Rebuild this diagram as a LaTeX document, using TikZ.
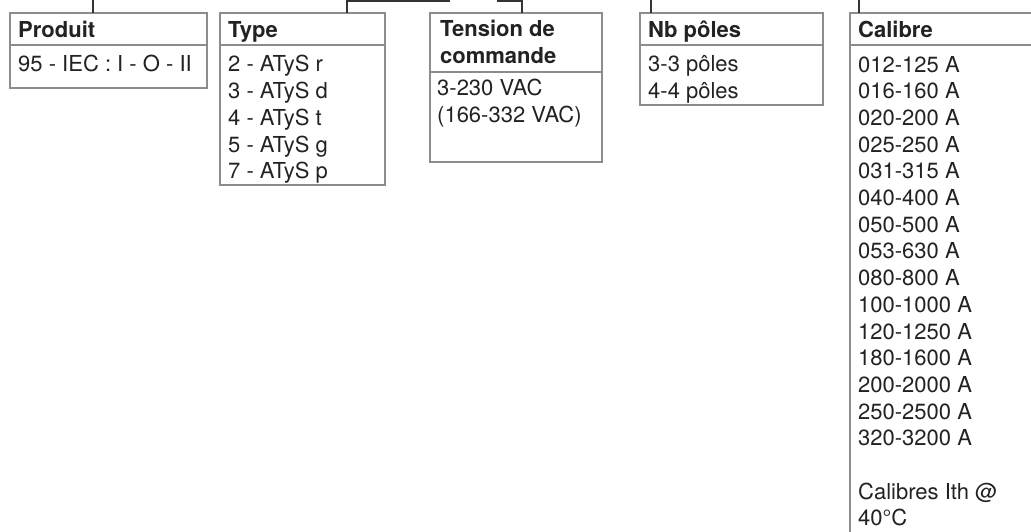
\documentclass[tikz,border=0pt]{standalone}
\usepackage{fontspec}
\setmainfont{TeX Gyre Heros}
\usepackage{tikz}
\usetikzlibrary{calc}
\definecolor{cadregris}{HTML}{8C8C8C}
\definecolor{lienfonce}{HTML}{333333}
\definecolor{texte}{HTML}{222222}

\begin{document}
\begin{tikzpicture}[x=1pt, y=-1pt,
		cadre/.style={draw=cadregris, line width=1.4pt, inner sep=0pt, outer sep=0pt, anchor=north west},
		filet/.style={draw=cadregris, line width=1.4pt},
		lien/.style={draw=lienfonce, line width=1.3pt},
		titre/.style={anchor=base west, inner sep=0pt, align=left, text=texte, font=\fontsize{22}{26.7}\selectfont\bfseries},
		liste/.style={anchor=base west, inner sep=0pt, align=left, text=texte, font=\fontsize{22}{26.7}\selectfont}]
			\useasboundingbox (0,0) rectangle (1031,532);
			\clip (0,0) rectangle (1031,532);
			\node[cadre, minimum width=197, minimum height=75] (produit) at (10,13) {};
			\node[cadre, minimum width=165, minimum height=172] (type) at (220,13) {};
			\node[cadre, minimum width=172, minimum height=149] (tension) at (430,13) {};
			\node[cadre, minimum width=183, minimum height=92] (poles) at (640,13) {};
			\node[cadre, minimum width=260, minimum height=560] (calibre) at (850,13) {};
			\draw[filet] (produit.west |- 0,45) -- (produit.east |- 0,45);
			\draw[filet] (type.west |- 0,45) -- (type.east |- 0,45);
			\draw[filet] (tension.west |- 0,72) -- (tension.east |- 0,72);
			\draw[filet] (poles.west |- 0,45) -- (poles.east |- 0,45);
			\draw[filet] (calibre.west |- 0,45) -- (calibre.east |- 0,45);
			% anchors sit on the baseline of the last line
			\node[titre] (tProduit) at (18,38) {Produit};
			\node[liste] (lProduit) at (18,72) {95 - IEC : I - O - II};
			\node[titre] (tType) at (228,38) {Type};
			\node[liste] (lType) at (228,178.8) {2 - ATyS r\\3 - ATyS d\\4 - ATyS t\\5 - ATyS g\\7 - ATyS p};
			\node[titre] (tTension) at (440,63.7) {Tension de\\commande};
			\node[liste] (lTension) at (437,122.7) {3-230 VAC\\(166-332 VAC)};
			\node[titre] (tPoles) at (648,38) {Nb pôles};
			\node[liste] (lPoles) at (648,98.7) {3-3 pôles\\4-4 pôles};
			\node[titre] (tCalibre) at (858,38) {Calibre};
			\node[liste] (lCalibre) at (858,525.9) {012-125 A\\016-160 A\\020-200 A\\025-250 A\\031-315 A\\040-400 A\\050-500 A\\053-630 A\\080-800 A\\100-1000 A\\120-1250 A\\180-1600 A\\200-2000 A\\250-2500 A\\320-3200 A\\[26.7pt]Calibres Ith @\\40°C};
			\coordinate (hProduit) at (93,0);
			\coordinate (hType) at (450,1);
			\coordinate (hTension) at (497,1);
			\coordinate (hPoles) at (651,0);
			\coordinate (hCalibre) at (859,0);
			\draw[lien] (hProduit) -- (produit.north -| hProduit);
			\draw[lien] (hType) -| (type.north -| 347,0);
			\draw[lien] (hTension) -| (tension.north -| 522,0);
			\draw[lien] (hPoles) -- (poles.north -| hPoles);
			\draw[lien] (hCalibre) -- (calibre.north -| hCalibre);
		\end{tikzpicture}
\end{document}
